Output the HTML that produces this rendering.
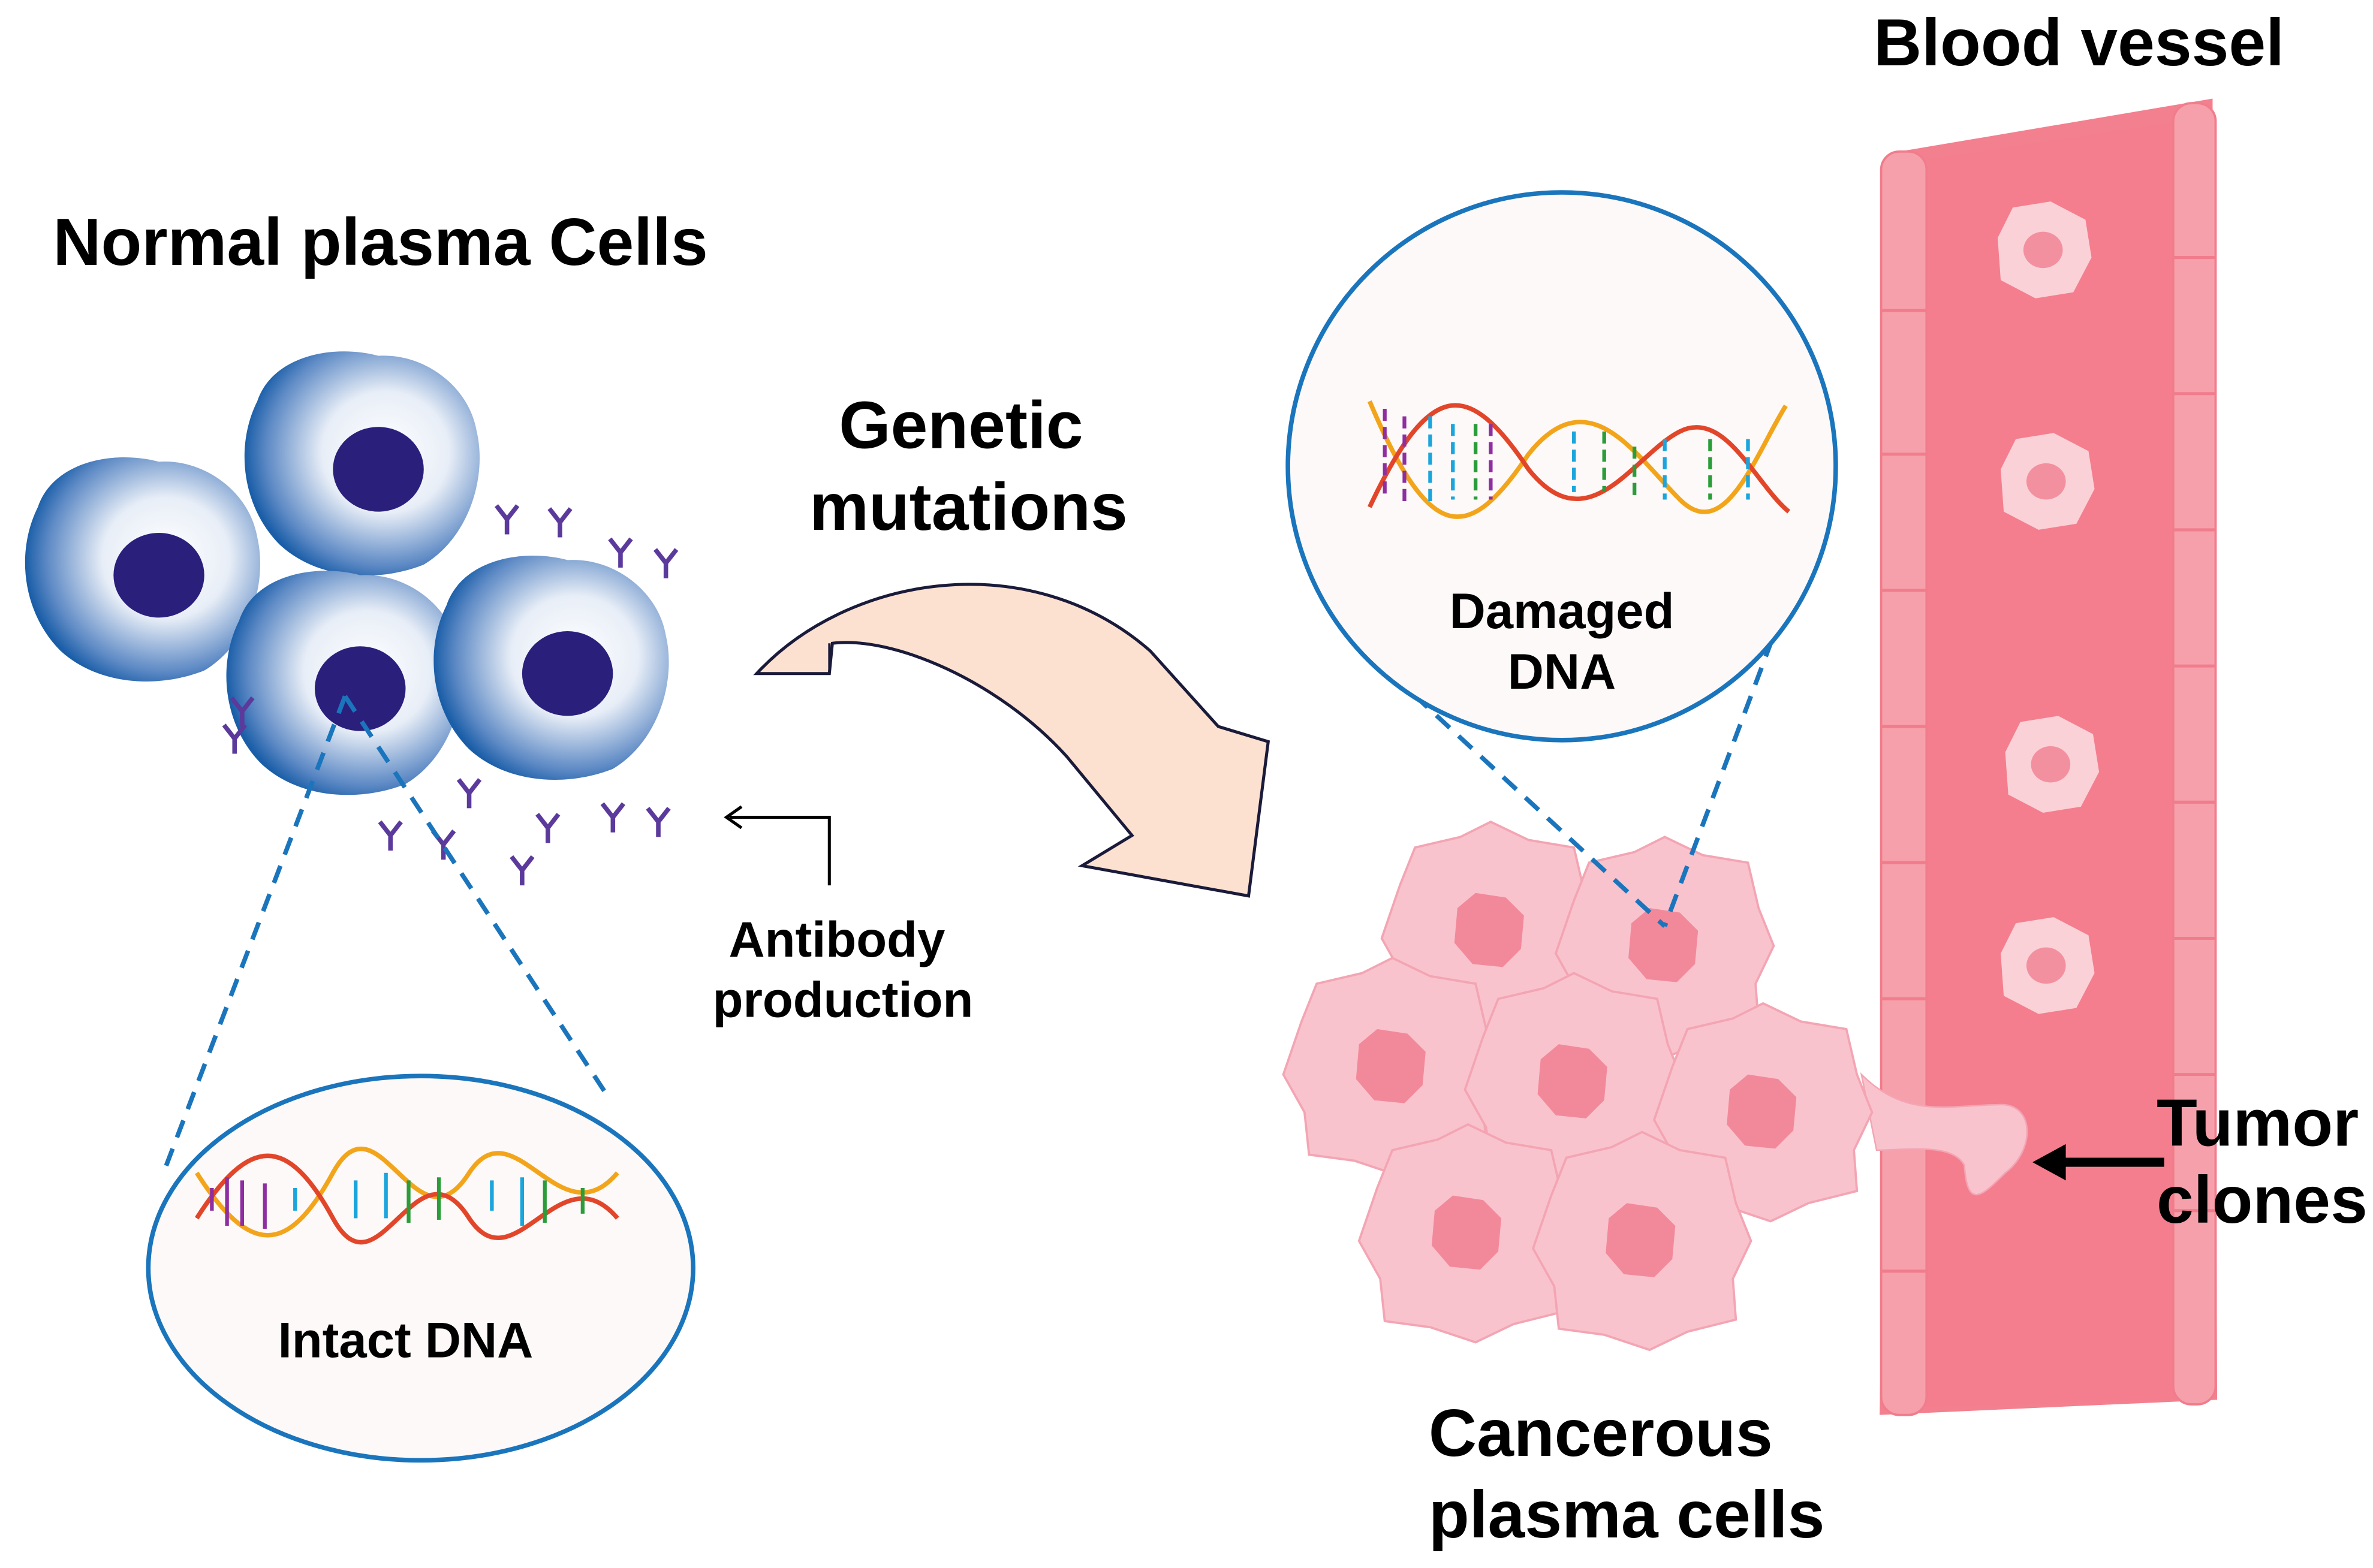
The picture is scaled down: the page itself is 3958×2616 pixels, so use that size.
<!DOCTYPE html>
<html><head><meta charset="utf-8"><style>
html,body{margin:0;padding:0;background:#fff;}
svg{display:block;}
text{font-family:"Liberation Sans",Arial,sans-serif;font-weight:bold;fill:#000;}
</style></head><body>
<svg width="3958" height="2616" viewBox="0 0 1568 1036" xmlns="http://www.w3.org/2000/svg">
<defs>
<radialGradient id="bc" cx="0.6" cy="0.45" r="0.6">
<stop offset="0" stop-color="#ffffff"/><stop offset="0.45" stop-color="#e8eef7"/><stop offset="0.85" stop-color="#5b88c4"/><stop offset="1" stop-color="#1a5ea8"/></radialGradient>
<g id="blue">
<path d="M-70,-40 C-60,-70 -20,-78 10,-70 C40,-72 70,-50 75,-20 C82,10 70,50 40,68 C10,80 -30,78 -55,55 C-80,30 -85,-10 -70,-40Z" fill="url(#bc)"/>
<ellipse cx="10" cy="5" rx="30" ry="28" fill="#2b1f7c"/>
</g>
<g id="pink">
<path d="M-60,-30 L-50,-55 L-20,-62 L0,-72 L25,-60 L55,-55 L62,-25 L72,0 L60,25 L62,52 L30,60 L5,72 L-25,62 L-55,58 L-58,30 L-72,5Z" fill="#f9c3cd" stroke="#f3a5b3" stroke-width="1.5"/>
<path d="M-22,-15 L-10,-25 L10,-22 L22,-10 L20,12 L8,24 L-12,22 L-24,8Z" fill="#f2899a"/>
</g>
<g id="ab" stroke="#5b3a9c" stroke-width="3" fill="none">
<path d="M0,10 L0,0 L-7,-9 M0,0 L7,-9"/>
</g>
<g id="vc">
<ellipse cx="0" cy="0" rx="28" ry="26" fill="#f9c3cd"/>
<path d="M-30,-8 L-20,-28 L5,-32 L28,-20 L32,5 L20,28 L-5,32 L-28,20Z" fill="#fbd1d8"/>
<ellipse cx="0" cy="0" rx="13" ry="12" fill="#f3909f"/>
</g>
</defs>
<rect width="1568" height="1036" fill="#fff"/>

<path d="M1255,100 L1462,65 L1465,925 L1242,935 Z" fill="#f3808f"/>
<path d="M1275,105 L1440,80 L1442,925 L1268,930 Z" fill="#f47e8d"/>
<g fill="#f6a0ab" stroke="#f07c8c" stroke-width="1.5">
<rect x="1243" y="100" width="30" height="835" rx="12"/>
<rect x="1436" y="68" width="28" height="860" rx="12"/>
</g>
<g stroke="#f07c8c" stroke-width="2">
<path d="M1243,205 H1273 M1243,300 H1273 M1243,390 H1273 M1243,480 H1273 M1243,570 H1273 M1243,660 H1273 M1243,750 H1273 M1243,840 H1273"/>
<path d="M1436,170 H1464 M1436,260 H1464 M1436,350 H1464 M1436,440 H1464 M1436,530 H1464 M1436,620 H1464 M1436,710 H1464 M1436,800 H1464"/>
</g>
<use href="#vc" x="1350" y="165"/><use href="#vc" x="1352" y="318"/><use href="#vc" x="1355" y="505"/><use href="#vc" x="1352" y="638"/>
<path d="M1230,710 C1260,740 1290,730 1320,730 C1345,728 1345,760 1325,775 C1310,790 1300,800 1298,770 C1290,755 1260,760 1240,760 Z" fill="#f9c3cd" stroke="#f3a5b3"/>

<use href="#pink" x="985" y="615"/><use href="#pink" x="1100" y="625"/>
<use href="#pink" x="920" y="705"/><use href="#pink" x="1040" y="715"/>
<use href="#pink" x="1165" y="735"/><use href="#pink" x="970" y="815"/><use href="#pink" x="1085" y="820"/>

<use href="#blue" x="240" y="305"/><use href="#blue" x="95" y="375"/>
<use href="#blue" x="228" y="450"/><use href="#blue" x="365" y="440"/>
<use href="#ab" x="335" y="343"/><use href="#ab" x="370" y="345"/><use href="#ab" x="410" y="365"/><use href="#ab" x="440" y="372"/>
<use href="#ab" x="160" y="470"/><use href="#ab" x="155" y="488"/><use href="#ab" x="310" y="524"/><use href="#ab" x="258" y="552"/>
<use href="#ab" x="293" y="558"/><use href="#ab" x="362" y="547"/><use href="#ab" x="345" y="575"/><use href="#ab" x="405" y="540"/><use href="#ab" x="435" y="543"/>

<g stroke="#1a75bc" stroke-width="3" stroke-dasharray="12,8" fill="none">
<path d="M228,460 L108,775 M228,460 L400,722"/>
<path d="M905,432 L1100,612 M1185,385 L1100,612"/>
</g>

<ellipse cx="278" cy="838" rx="180" ry="127" fill="#fdf9f8" stroke="#1a75bc" stroke-width="3"/>
<circle cx="1032" cy="308" r="181" fill="#fdf9f8" stroke="#1a75bc" stroke-width="3"/>
<g fill="none" stroke-width="3">
<path d="M130,775 C165,830 190,830 220,775 C250,720 275,830 310,775 C340,730 370,820 408,775" stroke="#f2a51b"/>
<path d="M130,805 C165,750 190,750 220,805 C250,860 275,750 310,805 C340,850 370,760 408,805" stroke="#e2462a"/>
<g stroke-width="2.5">
<path d="M140,785V800 M150,778V810 M160,780V810 M175,782V812" stroke="#8e2ea0"/>
<path d="M195,785V800 M235,780V805 M255,775V805 M325,780V800 M345,778V810" stroke="#1aa5dc"/>
<path d="M270,780V808 M290,778V806 M360,780V808 M385,785V802" stroke="#2a9d3a"/>
</g>
<path d="M905,265 C945,360 970,360 1010,300 C1050,250 1080,300 1110,330 C1140,360 1160,300 1180,268" stroke="#f2a51b"/>
<path d="M905,335 C945,250 970,250 1010,310 C1050,360 1080,300 1110,285 C1140,270 1160,320 1182,338" stroke="#e2462a"/>
<g stroke-width="2.5" stroke-dasharray="8,4">
<path d="M915,270V330 M928,275V335 M985,280V330" stroke="#8e2ea0"/>
<path d="M945,275V335 M960,280V330 M1040,285V325 M1100,290V330 M1155,290V330" stroke="#1aa5dc"/>
<path d="M975,280V330 M1060,285V325 M1080,295V330 M1130,290V330" stroke="#2a9d3a"/>
</g>
</g>

<path d="M500,445 C560,380 680,360 760,430 L805,480 L838,490 L825,592 L715,572 L748,552 L705,500 C660,450 590,420 550,425 L548,445 Z" fill="#fce1d0" stroke="#1a1a3a" stroke-width="2"/>
<path d="M548,425 L548,445 M500,445 L548,445" stroke="#1a1a3a" stroke-width="1.5" fill="#f0c9b5"/>

<path d="M548,585 V540 H482" stroke="#000" stroke-width="2" fill="none"/>
<path d="M490,533 L480,540 L490,547" stroke="#000" stroke-width="2" fill="none"/>
<path d="M1430,768 H1360" stroke="#000" stroke-width="6"/>
<path d="M1365,756 L1343,768 L1365,780Z" fill="#000"/>

<text x="35" y="175" font-size="44">Normal plasma Cells</text>
<text x="1238" y="43" font-size="44">Blood vessel</text>
<text x="635" y="296" font-size="44" text-anchor="middle">Genetic</text>
<text x="640" y="350" font-size="44" text-anchor="middle">mutations</text>
<text x="553" y="632" font-size="33" text-anchor="middle">Antibody</text>
<text x="557" y="672" font-size="33" text-anchor="middle">production</text>
<text x="1032" y="415" font-size="33" text-anchor="middle">Damaged</text>
<text x="1032" y="455" font-size="33" text-anchor="middle">DNA</text>
<text x="268" y="897" font-size="33" text-anchor="middle">Intact DNA</text>
<text x="944" y="962" font-size="44">Cancerous</text>
<text x="944" y="1016" font-size="44">plasma cells</text>
<text x="1425" y="757" font-size="44">Tumor</text>
<text x="1425" y="808" font-size="44">clones</text>
</svg>
</body></html>
